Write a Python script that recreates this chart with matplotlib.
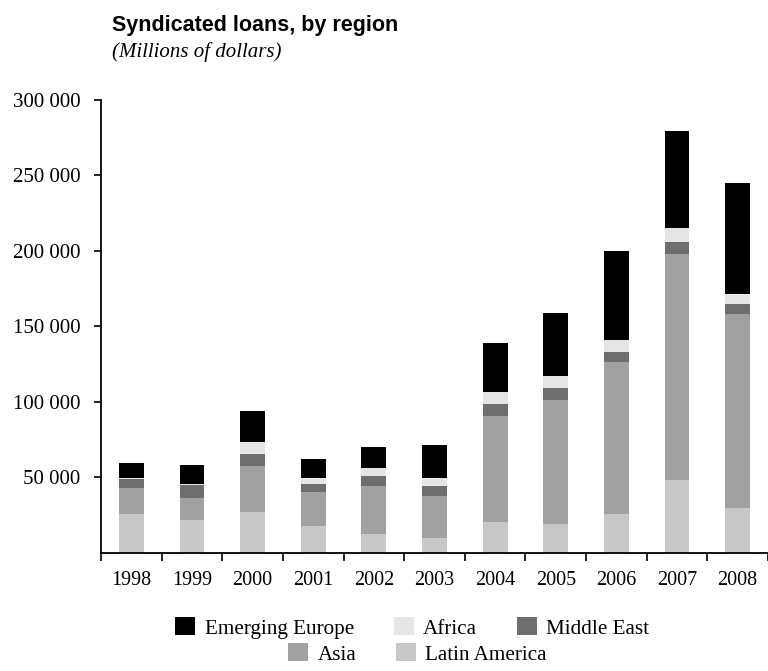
import numpy as np
import matplotlib.pyplot as plt

# data (millions of dollars)
years = ['1998', '1999', '2000', '2001', '2002', '2003', '2004', '2005', '2006', '2007', '2008']
latin_america = [26000, 22000, 27000, 18000, 12500, 10000, 20500, 19000, 26000, 48300, 29800]
asia = [17000, 14500, 30500, 22500, 32000, 27700, 70000, 82000, 100500, 149600, 128400]
middle_east = [6000, 8500, 8000, 5200, 6500, 6700, 8000, 8000, 6500, 8000, 6600]
africa = [500, 500, 8000, 4000, 5300, 5200, 8000, 8000, 8000, 9100, 6700]
emerging_europe = [10000, 12800, 20500, 12500, 14000, 22000, 32500, 42000, 59000, 64400, 73500]

yticks = [50000, 100000, 150000, 200000, 250000, 300000]
ytick_labels = ['50 000', '100 000', '150 000', '200 000', '250 000', '300 000']

serif = ['Liberation Serif', 'DejaVu Serif']

fig = plt.figure(figsize=(7.68, 6.71), dpi=100)
ax = fig.add_axes([0.1315, 0.1759, 0.8685, 0.6751])

x = np.arange(len(years))
w = 0.41
series = [
    (latin_america, 'Latin America', '#c6c7c9'),
    (asia, 'Asia', '#a0a1a3'),
    (middle_east, 'Middle East', '#6d6e70'),
    (africa, 'Africa', '#e4e5e6'),
    (emerging_europe, 'Emerging Europe', '#000000'),
]
bottom = np.zeros(len(years))
handles = {}
for vals, name, col in series:
    b = ax.bar(x, vals, w, bottom=bottom, color=col, label=name, linewidth=0)
    handles[name] = b
    bottom += np.array(vals)

ax.set_xlim(-0.5, len(years) - 0.5)
ax.set_ylim(0, 300000)

for s in ['top', 'right']:
    ax.spines[s].set_visible(False)
ax.spines['left'].set_linewidth(1.3)
ax.spines['bottom'].set_linewidth(1.3)

# year labels at bar centres, tick marks at the category edges
ax.set_xticks(x)
ax.set_xticklabels(years, fontsize=14.5, family=serif)
ax.tick_params(axis='x', which='major', length=0, pad=13)
ax.set_xticks(np.arange(-0.5, len(years)), minor=True)
ax.tick_params(axis='x', which='minor', length=5.8, width=1.2, direction='out')

ax.set_yticks(yticks)
ax.set_yticklabels(ytick_labels, fontsize=15, family=serif)
ax.tick_params(axis='y', length=5.2, width=1.2, pad=9.5)

fig.text(0.1458, 0.9538, 'Syndicated loans, by region', fontsize=15.5, fontweight='bold',
         family=['Liberation Sans', 'DejaVu Sans'])
fig.text(0.1458, 0.9146, '(Millions of dollars)', fontsize=15, style='italic', family=serif)

leg_font = {'family': serif, 'size': 15.2}
row1 = ['Emerging Europe', 'Africa', 'Middle East']
row2 = ['Asia', 'Latin America']
l1 = fig.legend([handles[n] for n in row1], row1, loc='center', bbox_to_anchor=(0.537, 0.0641),
                ncol=3, frameon=False, prop=leg_font, handlelength=0.93, handleheight=0.93,
                columnspacing=1.9, handletextpad=0.45)
l2 = fig.legend([handles[n] for n in row2], row2, loc='center', bbox_to_anchor=(0.5436, 0.0253),
                ncol=2, frameon=False, prop=leg_font, handlelength=0.93, handleheight=0.93,
                columnspacing=1.9, handletextpad=0.45)

fig.savefig('out.png', dpi=100)
